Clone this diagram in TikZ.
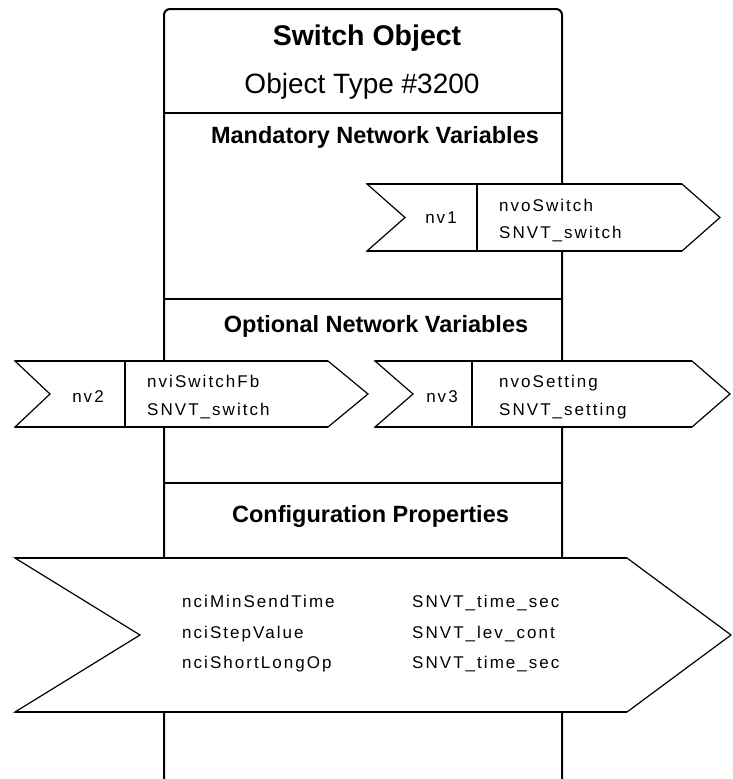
\documentclass[tikz,border=0pt]{standalone}
\usepackage{fontspec}
\setmainfont{Liberation Sans}
\newfontfamily\spfont[LetterSpace=12]{Liberation Sans}
\begin{document}
\begin{tikzpicture}[x=1pt,y=-1pt,
  frame/.style={line width=2pt,draw=black},
  edge/.style={line width=1.2pt,draw=black,fill=white},
  titlefnt/.style={font=\bfseries\fontsize{28.5}{32}\selectfont,anchor=base,inner sep=0pt},
  subfnt/.style={font=\fontsize{28}{32}\selectfont,anchor=base,inner sep=0pt},
  head/.style={font=\bfseries\fontsize{23.5}{26}\selectfont,anchor=base,inner sep=0pt},
  lbl/.style={font=\spfont\fontsize{17}{20}\selectfont,anchor=base west,inner sep=0pt},
  nvlbl/.style={font=\spfont\fontsize{17}{20}\selectfont,anchor=base,inner sep=0pt}]
\useasboundingbox (0,0) rectangle (733,779);
% main object frame
\draw[frame,rounded corners=6pt] (164,779) -- (164,9) -- (562,9) -- (562,779);
\draw[frame] (164,113) -- (562,113);
\draw[frame] (164,299) -- (562,299);
\draw[frame] (164,483) -- (562,483);
% headings
\node[titlefnt] (title) at (367,45) {Switch Object};
\node[subfnt] (otype) at (362,93) {Object Type \#3200};
\node[head] (mand) at (375,143) {Mandatory Network Variables};
\node[head] (opt) at (376,332) {Optional Network Variables};
\node[head] (conf) at (370.5,522) {Configuration Properties};
% nv1
\path[edge] (367,184) -- (682,184) -- (720,217.5) -- (682,251) -- (367,251) -- (405,217.5) -- cycle;
\draw[frame] (367,184) -- (682,184) (367,251) -- (682,251) (477,184) -- (477,251);
\node[nvlbl] (nv1) at (441,223) {nv1};
\node[lbl] (nvoSw) at (499,211) {nvoSwitch};
\node[lbl] (nvoSwT) at (499,238) {SNVT\_switch};
% nv2
\path[edge] (15,361) -- (328,361) -- (368,394) -- (328,427) -- (15,427) -- (50,394) -- cycle;
\draw[frame] (15,361) -- (328,361) (15,427) -- (328,427) (125,361) -- (125,427);
\node[nvlbl] (nv2) at (88,402) {nv2};
\node[lbl] (nviSw) at (147,387) {nviSwitchFb};
\node[lbl] (nviSwT) at (147,415) {SNVT\_switch};
% nv3
\path[edge] (375,361) -- (692,361) -- (730,394) -- (692,427) -- (375,427) -- (413,394) -- cycle;
\draw[frame] (375,361) -- (692,361) (375,427) -- (692,427) (472,361) -- (472,427);
\node[nvlbl] (nv3) at (442,402) {nv3};
\node[lbl] (nvoSet) at (499,387) {nvoSetting};
\node[lbl] (nvoSetT) at (499,415) {SNVT\_setting};
% configuration properties
\path[edge] (15,558) -- (627,558) -- (731,635) -- (627,712) -- (15,712) -- (140,635) -- cycle;
\draw[frame] (15,558) -- (627,558) (15,712) -- (627,712);
\node[lbl] (c1) at (182,607) {nciMinSendTime};
\node[lbl] (c2) at (182,638) {nciStepValue};
\node[lbl] (c3) at (182,668) {nciShortLongOp};
\node[lbl] (t1) at (412,607) {SNVT\_time\_sec};
\node[lbl] (t2) at (412,638) {SNVT\_lev\_cont};
\node[lbl] (t3) at (412,668) {SNVT\_time\_sec};
\end{tikzpicture}
\end{document}
